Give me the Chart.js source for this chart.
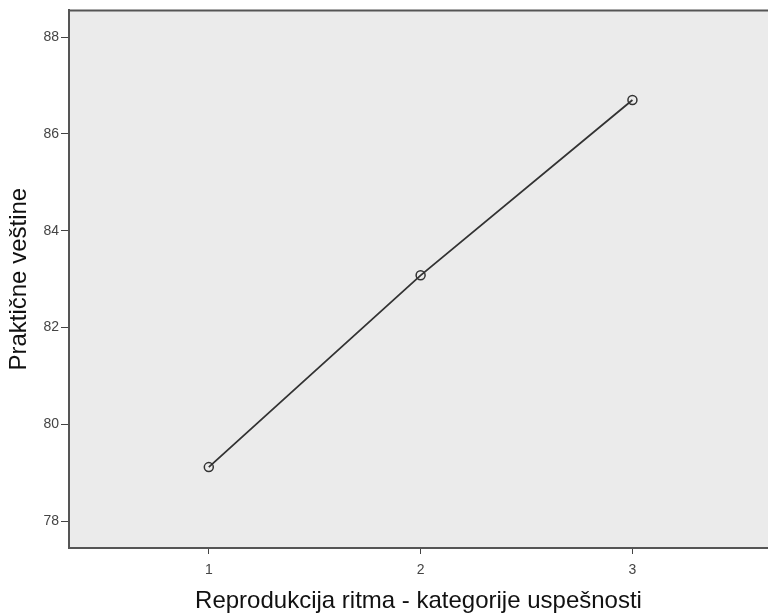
<!DOCTYPE html>
<html>
<head>
<meta charset="utf-8">
<script src="https://cdn.jsdelivr.net/npm/chart.js@4/dist/chart.umd.min.js"></script>
<style>
  html, body { margin: 0; padding: 0; background: #fff; overflow: hidden; }
  #wrap { width: 768px; height: 616px; }
  canvas { display: block; }
</style>
</head>
<body>
<div id="wrap"><canvas id="myChart" width="768" height="616"></canvas></div>
<script>
'use strict';

// data
let categories = [1, 2, 3];
let meanValues = [79.12, 83.08, 86.70];
let yTicks = [78, 80, 82, 84, 86, 88];
let xTitle = 'Reprodukcija ritma - kategorije uspešnosti';
let yTitle = 'Praktične veštine';

let points = [];
for (let i = 0; i < categories.length; i++) {
  points.push({ x: categories[i], y: meanValues[i] });
}

// grey plot background + top border like the SPSS frame
let frame = {
  id: 'frame',
  beforeDraw(chart) {
    let a = chart.chartArea;
    let c = chart.ctx;
    c.save();
    c.fillStyle = '#ebebeb';
    c.fillRect(a.left, a.top, a.right - a.left, a.bottom - a.top);
    c.strokeStyle = '#555';
    c.lineWidth = 2;
    c.beginPath();
    c.moveTo(a.left, a.top);
    c.lineTo(a.right, a.top);
    c.stroke();
    c.restore();
  }
};

let ctx = document.getElementById('myChart').getContext('2d');
new Chart(ctx, {
  type: 'line',
  data: {
    datasets: [{
      data: points,
      borderColor: '#333',
      borderWidth: 1.8,
      pointRadius: 4.5,
      pointBorderWidth: 1.5,
      pointBorderColor: '#333',
      pointBackgroundColor: 'rgba(0,0,0,0)',
      tension: 0
    }]
  },
  options: {
    responsive: false,
    animation: false,
    layout: { autoPadding: false, padding: { top: 8, right: 0, left: 0, bottom: 0 } },
    plugins: { legend: { display: false }, tooltip: { enabled: false } },
    scales: {
      x: {
        type: 'linear',
        min: 0.34,
        max: 3.64,
        afterBuildTicks(scale) { scale.ticks = categories.map(v => ({ value: v })); },
        afterFit(scale) {
          scale.height = 68;
          scale.paddingRight = 0;
          scale.paddingLeft = 0;
        },
        grid: { drawOnChartArea: false, tickLength: 6, color: '#444', lineWidth: 1 },
        border: { color: '#555', width: 2 },
        ticks: { color: '#444', padding: 8, font: { family: 'Liberation Sans', size: 14 } },
        title: {
          display: true, text: xTitle, color: '#111',
          font: { family: 'Liberation Sans', size: 24 },
          padding: { top: 0, bottom: 0 }
        }
      },
      y: {
        min: 77.45,
        max: 88.55,
        afterBuildTicks(scale) { scale.ticks = yTicks.map(v => ({ value: v })); },
        afterFit(scale) { scale.width = 69; },
        grid: { drawOnChartArea: false, tickLength: 8, color: '#444', lineWidth: 1 },
        border: { color: '#555', width: 2 },
        ticks: { color: '#444', padding: 2, font: { family: 'Liberation Sans', size: 14 } },
        title: {
          display: true, text: yTitle, color: '#111',
          font: { family: 'Liberation Sans', size: 24 },
          padding: { top: 5, bottom: 0 }
        }
      }
    }
  },
  plugins: [frame]
});
</script>
</body>
</html>
